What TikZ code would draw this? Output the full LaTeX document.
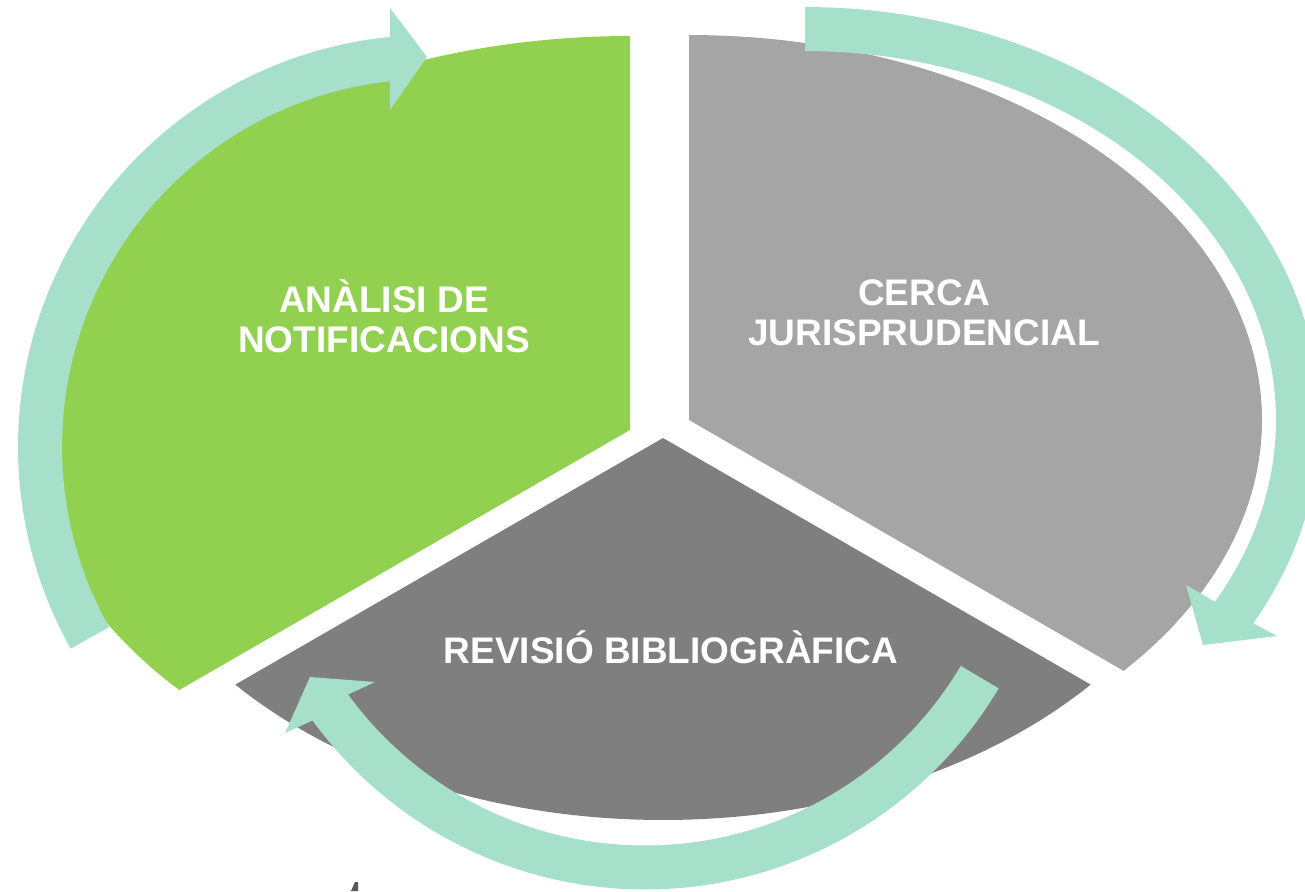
\documentclass[tikz,border=0pt]{standalone}
\usepackage{fontspec}
\setmainfont{Liberation Sans}
\definecolor{segGreen}{HTML}{92D050}
\definecolor{segGray}{HTML}{A5A5A5}
\definecolor{segDark}{HTML}{7F7F7F}
\definecolor{arrowTeal}{HTML}{A6E0CA}
\tikzset{
  cyclearrow/.style={fill=arrowTeal},
  lbl/.style={text=white, font=\fontsize{37}{40}\selectfont\bfseries, inner sep=0pt, anchor=base},
}
\begin{document}
\begin{tikzpicture}[x=1pt,y=-1pt]
\useasboundingbox (0,0) rectangle (1305,891);
\clip (0,0) rectangle (1305,891);
% sectors
\fill[segGreen] (630,430) -- plot[domain=90:221.3,samples=120,variable=\t] ({630+600*cos(\t)},{430-394*sin(\t)}) -- cycle;
\fill[segGray] (689,420) -- plot[domain=-40.66:90,samples=120,variable=\t] ({689+573*cos(\t)},{420-385*sin(\t)}) -- cycle;
\fill[segDark] (663,438) -- plot[domain=220.2:319.8,samples=120,variable=\t] ({663+560*cos(\t)},{438-382*sin(\t)}) -- cycle;
% arrow 1 (left)
\fill[cyclearrow] plot[domain=-209.3:-95.57,samples=100,variable=\t] ({430+412*cos(-\t)},{447-412*sin(-\t)})
  -- (390,8) -- (427,57) -- (390,110)
  -- plot[domain=96.24:209.3,samples=100,variable=\t] ({430+368*cos(\t)},{447-368*sin(\t)}) -- cycle;
% arrow 2 (right)
\fill[cyclearrow] plot[domain=-90:29.5,samples=100,variable=\t] ({805+515*cos(-\t)},{420-413*sin(-\t)})
  -- (1277,636) -- (1203,645) -- (1186,585)
  -- plot[domain=-29.5:90,samples=100,variable=\t] ({805+471*cos(\t)},{420-369*sin(\t)}) -- cycle;
% arrow 3 (bottom)
\fill[cyclearrow] plot[domain=30.75:143.9,samples=100,variable=\t] ({645+411.5*cos(-\t)},{478-411.5*sin(-\t)})
  -- (285,733) -- (310,677) -- (375,682)
  -- plot[domain=-143.9:-30.75,samples=100,variable=\t] ({645+367.5*cos(\t)},{478-367.5*sin(\t)}) -- cycle;
% small mark at bottom edge
\fill[black!65] (351,891) -- (355,882) -- (358,882) -- (358,891) -- cycle;
% labels
\node[lbl] (analisi) at (384,312) {\begin{tabular}[t]{@{}c@{}}ANÀLISI DE\\NOTIFICACIONS\end{tabular}};
\node[lbl] (cerca) at (924,305) {\begin{tabular}[t]{@{}c@{}}CERCA\\JURISPRUDENCIAL\end{tabular}};
\node[lbl] (revisio) at (671,663) {REVISIÓ BIBLIOGRÀFICA};
\end{tikzpicture}
\end{document}
